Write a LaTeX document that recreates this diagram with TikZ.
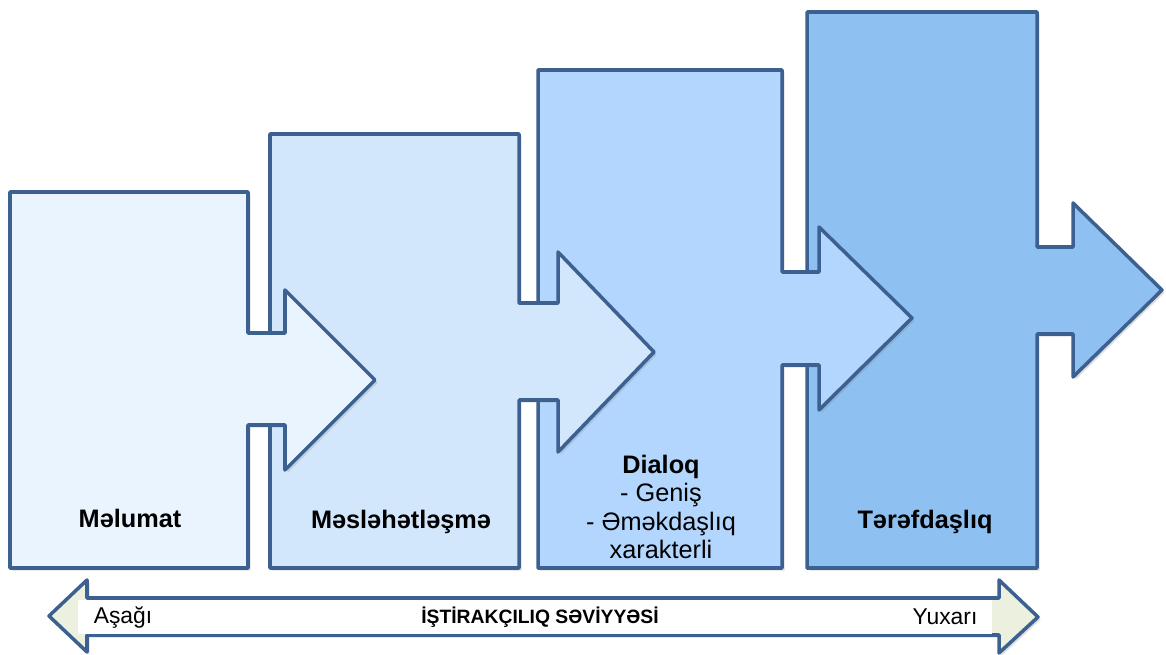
\documentclass[tikz,border=0pt]{standalone}
\usepackage{fontspec}
\setmainfont{Liberation Sans}
\usetikzlibrary{shadows}
\definecolor{edgeblue}{HTML}{3C6190}
\definecolor{stageone}{HTML}{EAF4FE}
\definecolor{stagetwo}{HTML}{D3E7FC}
\definecolor{stagethree}{HTML}{B2D6FD}
\definecolor{stagefour}{HTML}{8EC1F1}
\definecolor{headgreen}{HTML}{EBF1DE}
\begin{document}
\begin{tikzpicture}[x=0.02cm, y=-0.02cm,
  stage/.style={draw=edgeblue, line width=2pt, line join=round,
    drop shadow={shadow xshift=1.5pt, shadow yshift=-1.5pt, opacity=0.25}},
  stagetext/.style={font=\fontsize{14.4}{16.2}\selectfont, align=center},
  scaletext/.style={font=\fontsize{13}{15}\selectfont}]
\useasboundingbox (0,0) rectangle (1166,655);
% stages, back to front
\draw[stage, fill=stagefour] (807,12) -- (1037,12) -- (1037,247) -- (1073,247) -- (1073,203)
  -- (1162,290) -- (1073,377) -- (1073,334) -- (1037,334) -- (1037,568) -- (807,568) -- cycle;
\draw[stage, fill=stagethree] (538,70) -- (782,70) -- (782,272) -- (819,272) -- (819,227)
  -- (912,318) -- (819,410) -- (819,365) -- (782,365) -- (782,568) -- (538,568) -- cycle;
\draw[stage, fill=stagetwo] (270,134) -- (519,134) -- (519,303) -- (558,303) -- (558,252)
  -- (654,352) -- (558,452) -- (558,400) -- (519,400) -- (519,568) -- (270,568) -- cycle;
\draw[stage, fill=stageone] (10,192) -- (248,192) -- (248,333) -- (285,333) -- (285,290)
  -- (375,380) -- (285,470) -- (285,425) -- (248,425) -- (248,568) -- (10,568) -- cycle;
\node[stagetext] (info) at (130,518) {\bfseries Məlumat};
\node[stagetext] (consult) at (401,522) {\bfseries Məsləhətləşmə};
\node[stagetext] (dialog) at (661,507) {{\bfseries Dialoq}\\- Geniş\\- Əməkdaşlıq\\xarakterli};
\node[stagetext] (partner) at (925,522) {\bfseries Tərəfdaşlıq};
% level scale
\draw[stage, fill=headgreen] (49,616) -- (87,580) -- (87,598) -- (999,598) -- (999,580) -- (1038,617)
  -- (999,653) -- (999,635) -- (87,635) -- (87,652) -- cycle;
\fill[white] (78,599.5) rectangle (992,633.5);
\node[scaletext] (low) at (123,617) {Aşağı};
\node[font=\fontsize{11}{13}\selectfont\bfseries] (level) at (540,617) {İŞTİRAKÇILIQ SƏVİYYƏSİ};
\node[scaletext] (high) at (945,617) {Yuxarı};
\end{tikzpicture}
\end{document}
